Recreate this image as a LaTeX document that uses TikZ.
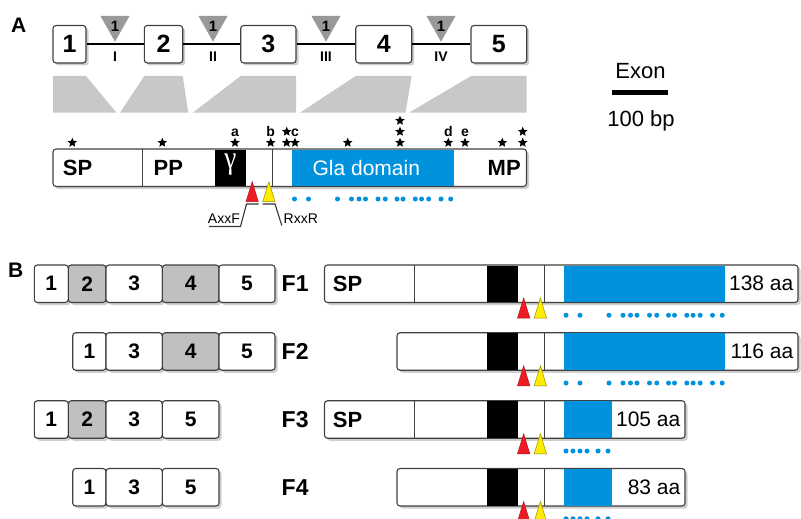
\documentclass[tikz,border=0pt]{standalone}
\usepackage{fontspec}
\setmainfont{Liberation Sans}
\newfontfamily\greekserif{Liberation Serif}
\usepackage{graphicx}
\usetikzlibrary{shadows,shapes.geometric}
\definecolor{glablue}{RGB}{0,146,221}
\definecolor{shapegray}{RGB}{200,200,200}
\definecolor{exongray}{RGB}{192,192,192}
\definecolor{cleavred}{RGB}{237,28,36}
\definecolor{cleavyellow}{RGB}{255,236,0}
\newcommand\fsz[1]{\fontsize{#1}{#1}\selectfont}
% one exon box of the transcript rows: name, left, right, centre y, label, fill
\newcommand\bexon[6]{\node[exonB, fill=#6, minimum width={(#3-#2)*1pt}] (#1) at ({(#2+#3)/2},#4) {#5};}
\begin{document}
\begin{tikzpicture}[x=1pt,y=-1pt,
  boxline/.style={draw=black!75, line width=1.1pt, rounded corners=3pt},
  shadowed/.style={drop shadow={shadow xshift=2.5pt, shadow yshift=-2.5pt, opacity=0.38}},
  exonA/.style={boxline, shadowed, fill=white, inner sep=0pt, minimum height=37.5pt, font=\bfseries\fsz{25}},
  exonB/.style={boxline, shadowed, inner sep=0pt, minimum height=37.5pt, font=\bfseries\fsz{21}},
  bar/.style={boxline, shadowed, fill=white, inner sep=0pt, minimum height=37.5pt},
  divider/.style={draw=black!75, line width=0.8pt},
  intron/.style={fill=black!40},
  astr/.style={star, star points=5, star point ratio=2.2, fill=black, draw=none, inner sep=0pt, minimum size=10pt},
  sitelbl/.style={font=\bfseries\fsz{14}, inner sep=0pt, anchor=base},
  romanlbl/.style={font=\bfseries\fsz{14}, inner sep=0pt, anchor=base},
  regionlbl/.style={font=\bfseries\fsz{22}, inner sep=0pt},
  lenlbl/.style={font=\fsz{21}, inner sep=0pt, anchor=east},
  rowlbl/.style={font=\bfseries\fsz{23}, inner sep=0pt, anchor=west},
  gladot/.style={circle, fill=glablue, inner sep=0pt, minimum size=5pt},
  leader/.style={draw=black!80, line width=1.1pt},
  redtri/.style={fill=cleavred, draw=cleavred!75!black, line width=0.5pt},
  yeltri/.style={fill=cleavyellow, draw=cleavyellow!60!black, line width=0.5pt}
]
\useasboundingbox (0,0) rectangle (801,519);

% ---------------- panel A ----------------
\node[font=\bfseries\fsz{21}, inner sep=0pt, anchor=base west] (lblA) at (11,33) {A};

% gene structure: exons joined by introns
\node[exonA, minimum width=33pt]   (e1) at (69.5,44.25)   {1};
\node[exonA, minimum width=38.4pt] (e2) at (163.5,44.25)  {2};
\node[exonA, minimum width=55.3pt] (e3) at (268.35,44.25) {3};
\node[exonA, minimum width=56pt]   (e4) at (383.7,44.25)  {4};
\node[exonA, minimum width=55.7pt] (e5) at (498.85,44.25) {5};
\draw[line width=1.8pt] (e1) -- (e2);
\draw[line width=1.8pt] (e2) -- (e3);
\draw[line width=1.8pt] (e3) -- (e4);
\draw[line width=1.8pt] (e4) -- (e5);

% intron phase markers
\foreach \x/\r [count=\i] in {115/I, 213/II, 326/III, 441/IV} {
  \fill[intron] (\x-14.5,16) -- (\x+14.5,16) -- (\x,41.7) -- cycle;
  \node[font=\bfseries\fsz{15}, inner sep=0pt] (ph\i) at (\x,26.5) {1};
  \node[romanlbl] (in\i) at (\x,62) {\r};
}

% exon to protein projections
\fill[shapegray] (53,76) -- (86,76) -- (116.5,112.7) -- (53,112.7) -- cycle;
\fill[shapegray] (120,112.7) -- (144.3,76) -- (182.7,76) -- (188.3,112.7) -- cycle;
\fill[shapegray] (192.7,112.7) -- (240.7,76) -- (296,76) -- (296,112.7) -- cycle;
\fill[shapegray] (300,112.7) -- (355.7,76) -- (411.7,76) -- (405.5,112.7) -- cycle;
\fill[shapegray] (409,112.7) -- (471,76) -- (526.7,76) -- (526.7,112.7) -- cycle;

% scale legend
\node[font=\fsz{22}, inner sep=0pt, anchor=base] (exlbl) at (640.5,78.3) {Exon};
\draw[line width=5pt] (612,93) -- (668,93);
\node[font=\fsz{22}, inner sep=0pt, anchor=base] (bplbl) at (641,126) {100 bp};

% protein domains
\node[bar, minimum width=473.5pt] (protA) at (289.75,167.75) {};
\fill[black]   (215,149.5) rectangle (246,186);
\fill[glablue] (292.3,149.5) rectangle (453.5,186);
\draw[divider] (142.7,149) -- (142.7,186.5);
\draw[divider] (272.7,149) -- (272.7,186.5);
\node[regionlbl] (spA) at (77.5,167.75) {SP};
\node[regionlbl] (ppA) at (168.3,167.75) {PP};
\node[inner sep=0pt, text=white] (gam) at (230.5,165) {\greekserif\fsz{32}\scalebox{0.85}[1]{γ}};
\node[font=\fsz{21}, inner sep=0pt, text=white] (gla) at (366.3,167.75) {Gla domain};
\node[regionlbl] (mpA) at (504.2,167.75) {MP};

% conserved residues
\foreach \x/\y [count=\i] in {72.3/142.7, 162.3/142.7, 235/142.7, 270.7/142.7,
    286.7/142.7, 286.7/131.7, 295/142.7, 347.7/142.7,
    400/142.7, 400/131.7, 400/120.7, 448.3/142.7, 465/142.7,
    502.3/142.7, 522.7/142.7, 522.7/131.7}
  \node[astr] (st\i) at (\x,\y) {};
\foreach \x/\t in {235/a, 270.7/b, 295/c, 448.3/d, 465/e}
  \node[sitelbl] (site\t) at (\x,136.5) {\t};

% cleavage sites with their motifs
\draw[redtri] (252.2,181.7) -- (258.3,201.7) -- (246,201.7) -- cycle;
\draw[yeltri] (268.9,181.7) -- (275,201.7) -- (262.7,201.7) -- cycle;
\node[font=\fsz{14}, inner sep=0pt, anchor=base east] (axxf) at (240,223.3) {AxxF};
\node[font=\fsz{14}, inner sep=0pt, anchor=base west] (rxxr) at (283.5,223.3) {RxxR};
\coordinate (axxfend) at (209,226.5);
\coordinate (rxxrend) at (281.8,225.5);
\draw[leader] (axxfend) -- (240.5,226.5) -- (246.5,204) -- (258.5,204);
\draw[leader] (262.5,204) -- (275,204) -- (rxxrend);

% gamma-carboxylated glutamates
\foreach \x [count=\i] in {294.5,308.5,337.5,351.5,359,365.5,378,385.3,397,403,415.3,421.6,428.7,441,450.7}
  \node[gladot] (dA\i) at (\x,199) {};

% ---------------- panel B ----------------
\node[font=\bfseries\fsz{21}, inner sep=0pt, anchor=base west] (lblB) at (8,277) {B};

% transcripts
\bexon{f1a}{34.3}{68.3}{283.75}{1}{white}
\bexon{f1b}{68.3}{106}{283.75}{2}{exongray}
\bexon{f1c}{106}{162.3}{283.75}{3}{white}
\bexon{f1d}{162.3}{219}{283.75}{4}{exongray}
\bexon{f1e}{219}{275}{283.75}{5}{white}

\bexon{f2a}{72.7}{106}{351.5}{1}{white}
\bexon{f2c}{106}{162.3}{351.5}{3}{white}
\bexon{f2d}{162.3}{219}{351.5}{4}{exongray}
\bexon{f2e}{219}{275}{351.5}{5}{white}

\bexon{f3a}{34.3}{68.3}{419.5}{1}{white}
\bexon{f3b}{68.3}{106}{419.5}{2}{exongray}
\bexon{f3c}{106}{162.3}{419.5}{3}{white}
\bexon{f3e}{162.3}{219}{419.5}{5}{white}

\bexon{f4a}{72.7}{106}{487.25}{1}{white}
\bexon{f4c}{106}{162.3}{487.25}{3}{white}
\bexon{f4e}{162.3}{219}{487.25}{5}{white}

% encoded protein forms
\foreach \n/\xl/\xr/\yc/\be/\sp/\len in {1/324.5/798/283.75/725/1/138, 2/397/798/351.5/725/0/116,
                                         3/324.5/685/419.5/612/1/105, 4/397/685/487.25/612/0/83} {
  \node[rowlbl] (F\n) at (281.5,\yc) {F\n};
  \node[bar, minimum width={(\xr-\xl)*1pt}] (bar\n) at ({(\xl+\xr)/2},\yc) {};
  \fill[black]   (486.5,\yc-18.25) rectangle (517.5,\yc+18.25);
  \fill[glablue] (563.8,\yc-18.25) rectangle (\be,\yc+18.25);
  \draw[divider] (544.2,\yc-18.75) -- (544.2,\yc+18.75);
  \ifnum\sp=1
    \draw[divider] (414.2,\yc-18.75) -- (414.2,\yc+18.75);
    \node[regionlbl] (sp\n) at (347.5,\yc) {SP};
  \fi
  \node[lenlbl] (len\n) at (\xr-4.5,\yc) {\len{} aa};
  \draw[redtri] (523.7,\yc+14.25) -- (529.8,\yc+34.25) -- (517.5,\yc+34.25) -- cycle;
  \draw[yeltri] (540.4,\yc+14.25) -- (546.5,\yc+34.25) -- (534.2,\yc+34.25) -- cycle;
  \ifnum\n<3
    \foreach \x [count=\i] in {294.5,308.5,337.5,351.5,359,365.5,378,385.3,397,403,415.3,421.6,428.7,441,450.7}
      \node[gladot] (dB\n\i) at (\x+271.5,\yc+31.5) {};
  \else
    \foreach \x [count=\i] in {566,573,580,587,598,608}
      \node[gladot] (dB\n\i) at (\x,\yc+31.5) {};
  \fi
}
\end{tikzpicture}
\end{document}
